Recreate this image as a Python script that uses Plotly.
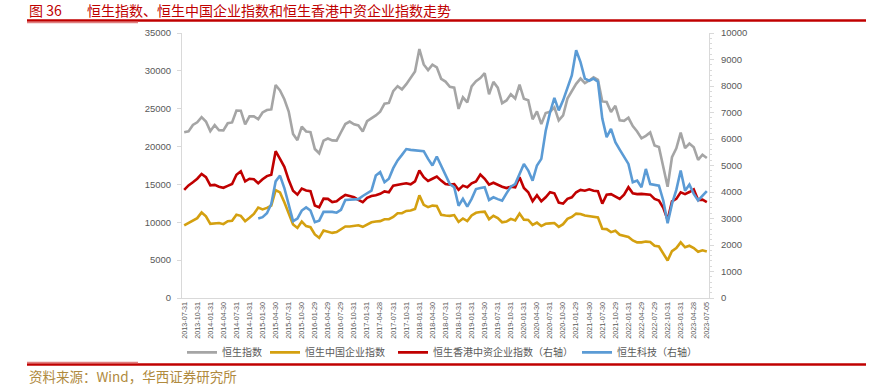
import plotly.graph_objects as go

tick_labels = [
    "2013-07-31", "2013-10-31", "2014-01-31", "2014-04-30", "2014-07-31", "2014-10-31",
    "2015-01-30", "2015-04-30", "2015-07-31", "2015-10-30", "2016-01-29", "2016-04-29",
    "2016-07-29", "2016-10-31", "2017-01-31", "2017-04-28", "2017-07-31", "2017-10-31",
    "2018-01-31", "2018-04-30", "2018-07-31", "2018-10-31", "2019-01-31", "2019-04-30",
    "2019-07-31", "2019-10-31", "2020-01-31", "2020-04-30", "2020-07-31", "2020-10-30",
    "2021-01-29", "2021-04-30", "2021-07-30", "2021-10-29", "2022-01-31", "2022-04-29",
    "2022-07-29", "2022-10-31", "2023-01-31", "2023-04-28", "2023-07-05",
]

# 恒生指数 (left axis), monthly
hsi = [
    21883, 22008, 22860, 23206, 23881, 23306,
    22035, 22837, 22151, 22134, 23082, 23191, 24757, 24742, 22933, 23998, 23987, 23605,
    24507, 24823, 24901, 28133, 27424, 26250, 24636, 21671, 20846, 22640, 21996, 21914,
    19683, 19112, 20777, 21067, 20815, 20794, 21891, 22977, 23297, 22935, 22790, 22001,
    23361, 23741, 24112, 24615, 25661, 25765, 27324, 27970, 27554, 28246, 29177, 29919,
    32887, 30845, 30093, 30808, 30469, 28955, 28583, 27889, 27789, 24980, 26507, 25846,
    27942, 28633, 29051, 29699, 26901, 28543, 27778, 25725, 26092, 26907, 26346, 28190,
    26313, 26130, 23603, 24644, 22961, 24427, 24595, 25177, 23459, 24107, 26341, 27231,
    28284, 28980, 28378, 28725, 29152, 28828, 25961, 25879, 24576, 25377, 23475, 23398,
    23802, 22713, 21997, 21089, 21415, 21860, 20157, 19955, 17223, 14687, 18597, 19781,
    21842, 19786, 20400, 19895, 18234, 18916, 18500,
]

# 恒生中国企业指数 (left axis)
hscei = [
    9600, 9950, 10300, 10550, 11300, 10800,
    9800, 9850, 9900, 9750, 10150, 10200, 11000, 10850, 10150, 10600, 11100, 11950,
    11700, 11900, 12200, 14250, 13950, 12650, 11150, 9700, 9250, 10100, 9500, 9350,
    8400, 7950, 8900, 8800, 8600, 8700, 9100, 9450, 9450, 9500, 9600, 9400,
    9700, 10000, 10100, 10150, 10400, 10400, 10700, 11200, 11200, 11500, 11550, 11750,
    13550, 12300, 12000, 12200, 12150, 11000, 10900, 10850, 10950, 10050, 10500, 10150,
    10900, 11250, 11350, 11400, 10400, 10850, 10550, 10000, 10100, 10450, 10250, 11150,
    10350, 10300, 9650, 9950, 9500, 9800, 9850, 9900, 9400, 9750, 10450, 10700,
    11150, 11100, 10900, 10800, 10800, 10650, 9150, 9100, 8700, 8880, 8350, 8250,
    8050, 7600, 7350, 7350, 7450, 7400, 6900, 6800, 5800, 4950, 6200, 6600,
    7350, 6700, 6900, 6600, 6100, 6300, 6150,
]

# 恒生香港中资企业指数 (right axis)
hscci = [
    4080, 4250, 4370, 4500, 4680, 4560,
    4250, 4270, 4200, 4160, 4230, 4300, 4650, 4780, 4400, 4500, 4480, 4330,
    4480, 4600, 4650, 5540, 5250, 4950, 4450, 4050, 3900, 4130, 4060, 4030,
    3490, 3420, 3750, 3740, 3620, 3650, 3780, 3890, 3850, 3800, 3700, 3620,
    3780, 3850, 3880, 3930, 4020, 3990, 4240, 4280, 4300, 4330, 4290, 4400,
    4810, 4560, 4420, 4500, 4580, 4430, 4300, 4280, 4300, 4080, 4240, 4180,
    4330, 4400, 4660, 4500, 4280, 4350, 4270, 4200, 4150, 4200, 4180, 4560,
    4150, 3990, 3650, 3880, 3650, 3800, 3990, 3950, 3600, 3560, 3740, 3800,
    3990, 4080, 4050, 4100, 4050, 4030, 3560, 3900, 3920, 3830, 3740, 3900,
    4180, 3950, 3920, 3930, 3920, 3900, 3740, 3680, 3400, 2950, 3650, 3740,
    3990, 3920, 4000, 4100, 3700, 3710, 3620,
]

# 恒生科技 (right axis), starts 2014-12
hstech = [None] * 17 + [
    3000,
    3050, 3200, 3550, 4400, 4620, 4150, 3500, 2900, 3000, 3300, 3420, 3300,
    2860, 2920, 3250, 3250, 3250, 3220, 3330, 3700, 3710, 3720, 3730, 3850,
    3950, 4050, 4620, 4750, 4370, 4500, 4900, 5190, 5400, 5620, 5590, 5570,
    5570, 5540, 5250, 5000, 5340, 5000, 4600, 4300, 4180, 3480, 3740, 3450,
    3740, 4110, 4150, 4180, 3700, 3800, 3730, 3670, 3950, 4200, 4300, 4680,
    5060, 4810, 4430, 5000, 5250, 6300, 7000, 7550, 7080, 7460, 7950, 8400,
    9350, 8900, 8280, 8200, 8280, 8160, 6770, 6070, 6380, 5880, 5600, 5320,
    5060, 4370, 4430, 4180, 4870, 4300, 4270, 4240, 3680, 2820, 3550, 4080,
    4810, 4050, 4280, 3930, 3680, 3850, 4030,
]

names = ["恒生指数", "恒生中国企业指数", "恒生香港中资企业指数（右轴）", "恒生科技（右轴）"]
colors = ["#A5A5A5", "#D4A010", "#C00000", "#5B9BD5"]

n = len(hsi)
x = list(range(n))
tickvals = list(range(0, n, 3))

fig = go.Figure()
series = [(hsi, "y"), (hscei, "y"), (hscci, "y2"), (hstech, "y2")]
legend_w = [38, 83, 139, 90]
for (vals, ax), name, col, lw in zip(series, names, colors, legend_w):
    fig.add_trace(go.Scatter(
        x=x, y=vals, name=name, yaxis=ax, mode="lines",
        line=dict(color=col, width=2.6), legendwidth=lw,
        connectgaps=False, hoverinfo="skip",
    ))

tick_font = dict(family="Liberation Sans, Arial, sans-serif", size=9.5, color="#595959")

fig.update_layout(
    width=871, height=387, autosize=False,
    margin=dict(l=182, r=162, t=33, b=89),
    paper_bgcolor="white", plot_bgcolor="white",
    showlegend=True,
    legend=dict(
        orientation="h", x=0, xanchor="left", y=-0.205, yanchor="middle",
        font=dict(family="Noto Sans CJK SC", size=10, color="#595959"),
        bgcolor="rgba(0,0,0,0)", traceorder="normal",
    ),
    xaxis=dict(
        type="linear", range=[-0.5, n - 0.5],
        tickmode="array", tickvals=tickvals, ticktext=tick_labels,
        tickangle=-90, showgrid=False, zeroline=False,
        showline=True, linecolor="#D9D9D9", linewidth=1,
        ticks="", tickfont=dict(family="Liberation Sans, Arial, sans-serif", size=7.2, color="#595959"),
    ),
    yaxis=dict(
        range=[0, 35000], dtick=5000, tick0=0, tickformat="d", showgrid=False, zeroline=False,
        showline=True, linecolor="#D9D9D9", linewidth=1,
        ticks="outside", ticklen=4, tickcolor="#D9D9D9", ticklabelstandoff=4,
        tickfont=tick_font,
    ),
    yaxis2=dict(
        range=[0, 10000], dtick=1000, tick0=0, tickformat="d", overlaying="y", side="right",
        showgrid=False, zeroline=False,
        showline=True, linecolor="#D9D9D9", linewidth=1,
        ticks="outside", ticklen=4, tickcolor="#D9D9D9", ticklabelstandoff=5,
        minor=dict(dtick=200, ticks="outside", ticklen=2, tickcolor="#D9D9D9"),
        tickfont=tick_font,
    ),
)

# Title
fig.add_annotation(xref="paper", yref="paper", x=(27 - 182) / 527, y=1 + (33 - 10) / 265,
                   xanchor="left", yanchor="middle", showarrow=False,
                   text="图 36", font=dict(family="Noto Sans CJK SC", size=14, color="#C00000"))
fig.add_annotation(xref="paper", yref="paper", x=(85 - 182) / 527, y=1 + (33 - 10) / 265,
                   xanchor="left", yanchor="middle", showarrow=False,
                   text="恒生指数、恒生中国企业指数和恒生香港中资企业指数走势",
                   font=dict(family="Noto Sans CJK SC", size=14, color="#C00000"))
# Source
fig.add_annotation(xref="paper", yref="paper", x=(27 - 182) / 527, y=(298 - 376) / 265,
                   xanchor="left", yanchor="middle", showarrow=False,
                   text="资料来源：Wind，华西证券研究所",
                   font=dict(family="Noto Sans CJK SC", size=13.5, color="#B08A3E"))

# Decorative rules
def hline(x0, x1, ypix, w, col):
    fig.add_shape(type="line", xref="paper", yref="paper",
                  x0=(x0 - 182) / 527, x1=(x1 - 182) / 527,
                  y0=(298 - ypix) / 265, y1=(298 - ypix) / 265,
                  line=dict(color=col, width=w))

hline(27, 866, 20.5, 2.5, "#C00000")
hline(27, 138, 22.5, 1.5, "#E08080")
hline(27, 866, 364.5, 2.5, "#C00000")
hline(27, 138, 362.5, 1.5, "#E08080")

fig.write_html("out.html", config={"displayModeBar": False},
               post_script="document.body.style.margin='0';")
